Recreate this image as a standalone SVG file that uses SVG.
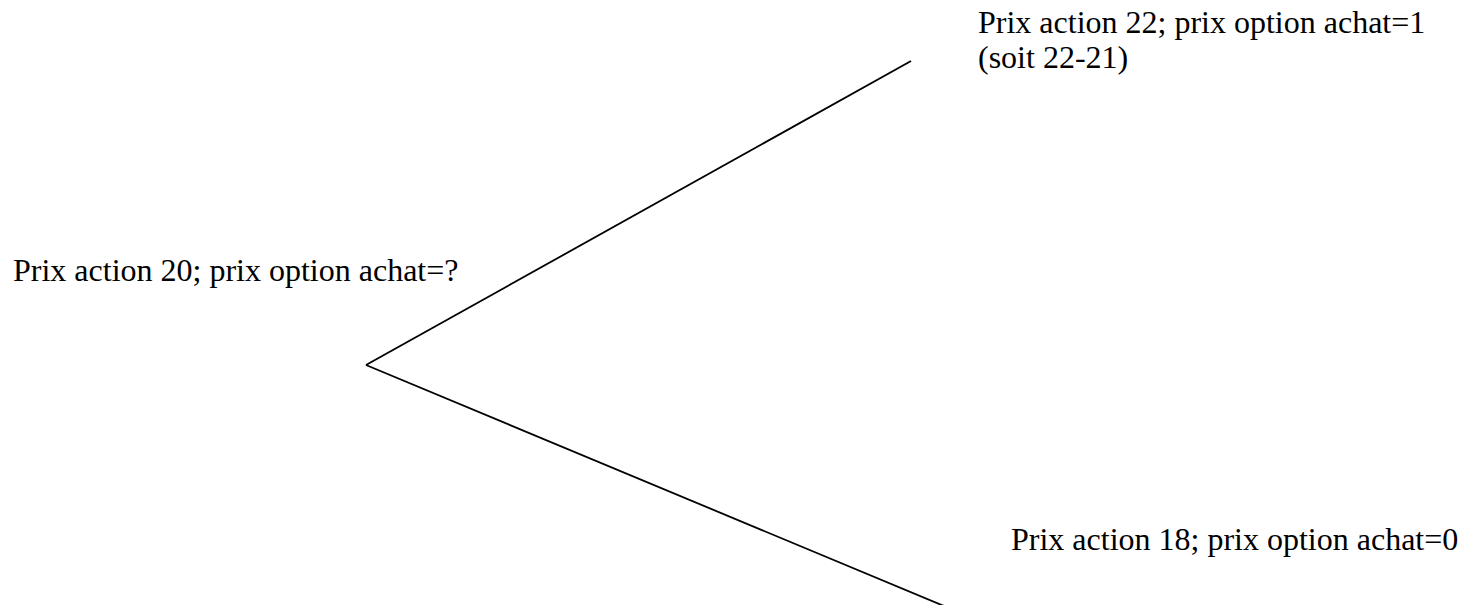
<svg xmlns="http://www.w3.org/2000/svg" width="1462" height="605" viewBox="0 0 1462 605">
<style>
.lbl{font-family:"Liberation Serif","Times New Roman",serif;font-size:32px;fill:#000}
.edge{stroke:#000;stroke-width:1.8;fill:none}
</style>
<rect width="1462" height="605" fill="#fff"/>
<g id="connectors">
<line class="edge" x1="366" y1="365" x2="911" y2="61"/>
<line class="edge" x1="366" y1="365" x2="944" y2="606"/>
</g>
<g id="node-root"><text class="lbl" x="13" y="281">Prix action 20; prix option achat=?</text></g>
<g id="node-up"><text class="lbl" x="978" y="33">Prix action 22; prix option achat=1</text><text class="lbl" x="978" y="68">(soit 22-21)</text></g>
<g id="node-down"><text class="lbl" x="1011" y="550">Prix action 18; prix option achat=0</text></g>
</svg>
